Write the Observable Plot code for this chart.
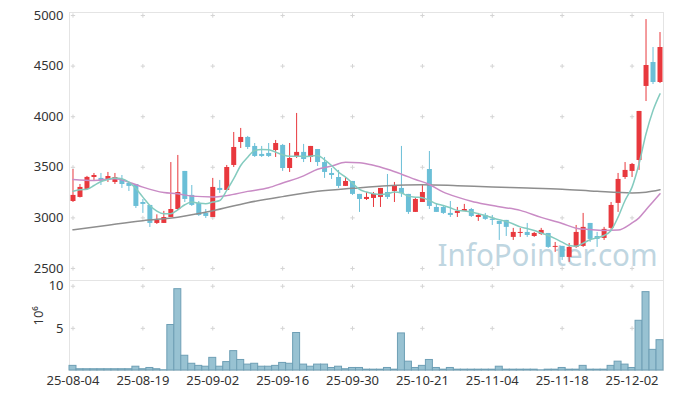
<!DOCTYPE html>
<html><head><meta charset="utf-8">
<script src="https://cdn.jsdelivr.net/npm/d3@7"></script>
<script src="https://cdn.jsdelivr.net/npm/@observablehq/plot@0.6"></script>
<style>
body{margin:0;background:#fff;}
#chart{width:673px;}
#chart svg{display:block;overflow:visible;}
</style></head><body><div id="chart"></div>
<script>
const dates = [
"25-08-04","25-08-05","25-08-06","25-08-07","25-08-08","25-08-11","25-08-12","25-08-13","25-08-14","25-08-18",
"25-08-19","25-08-20","25-08-21","25-08-22","25-08-25","25-08-26","25-08-27","25-08-28","25-08-29","25-09-01",
"25-09-02","25-09-03","25-09-04","25-09-05","25-09-08","25-09-09","25-09-10","25-09-11","25-09-12","25-09-15",
"25-09-16","25-09-17","25-09-18","25-09-19","25-09-22","25-09-23","25-09-24","25-09-25","25-09-26","25-09-29",
"25-09-30","25-10-01","25-10-02","25-10-10","25-10-13","25-10-14","25-10-15","25-10-16","25-10-17","25-10-20",
"25-10-21","25-10-22","25-10-23","25-10-24","25-10-27","25-10-28","25-10-29","25-10-30","25-10-31","25-11-03",
"25-11-04","25-11-05","25-11-06","25-11-07","25-11-10","25-11-11","25-11-12","25-11-13","25-11-14","25-11-17",
"25-11-18","25-11-19","25-11-20","25-11-21","25-11-24","25-11-25","25-11-26","25-11-27","25-11-28","25-12-01",
"25-12-02","25-12-03","25-12-04","25-12-05","25-12-08"];

const open = [
3162,3202,3281,3399,3390,3370,3350,3370,3340,3330,
3152,3123,2945,2945,3004,3083,3459,3222,3143,3044,
3004,3291,3271,3518,3745,3795,3706,3627,3637,3666,
3716,3488,3607,3647,3597,3676,3547,3439,3399,3311,
3360,3232,3182,3192,3202,3251,3261,3291,3232,3054,
3152,3478,3103,3103,3044,3044,3064,3083,3004,3024,
2985,2965,2975,2807,2846,2856,2816,2836,2846,2708,
2718,2609,2708,2718,2945,2816,2797,2896,3143,3399,
3459,3567,4299,4536,4338];
const high = [
3478,3330,3410,3439,3439,3449,3439,3419,3350,3330,
3182,3123,3030,3064,3547,3617,3459,3320,3162,3083,
3390,3370,3518,3844,3884,3805,3735,3706,3735,3765,
3726,3735,4032,3726,3706,3676,3597,3488,3469,3399,
3360,3232,3251,3251,3291,3429,3350,3706,3232,3192,
3320,3656,3133,3113,3162,3103,3133,3093,3044,3044,
3024,2965,2975,2896,2896,2945,2856,2896,2846,2757,
2718,2747,2925,3044,2945,2856,2906,3152,3439,3547,
3538,4052,4960,4684,4832];
const low = [
3152,3197,3275,3370,3320,3350,3330,3291,3261,3093,
3044,2905,2935,2945,3004,3074,3152,3113,3014,2994,
3004,3241,3271,3498,3686,3676,3597,3597,3597,3597,
3459,3449,3587,3547,3547,3508,3390,3380,3291,3311,
3222,3054,3172,3103,3103,3182,3152,3202,3034,3054,
3152,3083,3054,3034,3004,3004,3064,3004,2965,2975,
2925,2777,2816,2777,2807,2807,2807,2826,2698,2659,
2579,2560,2698,2708,2757,2708,2777,2876,3054,3380,
3399,3469,4150,4318,4328];
const close = [
3222,3301,3400,3419,3360,3409,3399,3330,3311,3113,
3133,2945,2975,3004,3083,3251,3182,3123,3024,3014,
3301,3271,3498,3696,3795,3696,3607,3607,3607,3735,
3488,3587,3647,3577,3706,3547,3449,3419,3311,3360,
3232,3182,3202,3232,3291,3202,3311,3241,3054,3182,
3251,3113,3054,3044,3024,3064,3083,3014,3024,2985,
2975,2935,2906,2856,2856,2826,2846,2876,2708,2718,
2609,2708,2856,2906,2787,2787,2886,3123,3380,3469,
3528,4052,4506,4338,4684];
const volume = [
550000,150000,150000,150000,150000,150000,150000,150000,150000,450000,
150000,300000,150000,30000,5400000,9650000,1750000,800000,550000,450000,
1500000,450000,1000000,2300000,1250000,700000,800000,450000,450000,550000,
900000,800000,4450000,700000,450000,700000,700000,300000,450000,150000,
300000,300000,100000,100000,100000,300000,100000,4400000,1050000,300000,
550000,1250000,300000,100000,300000,100000,100000,100000,100000,100000,
100000,450000,100000,100000,100000,100000,100000,20000,100000,100000,
300000,100000,100000,550000,100000,100000,100000,550000,1050000,700000,
300000,5900000,9300000,2450000,3600000];

const ma5 = [
3264,3277,3284,3320,3360,3380,3393,3387,3353,3291,
3205,3123,3067,3041,3041,3080,3130,3156,3146,3140,
3156,3172,3271,3387,3518,3600,3666,3676,3673,3650,
3624,3610,3610,3607,3610,3617,3574,3518,3452,3403,
3343,3281,3255,3238,3232,3238,3255,3245,3215,3205,
3199,3172,3140,3123,3100,3074,3067,3057,3041,3024,
3001,2981,2965,2940,2911,2895,2876,2850,2826,2795,
2760,2727,2720,2750,2784,2803,2826,2876,3007,3172,
3304,3535,3831,4061,4226];
const ma20Idx = [0,3,6,8,10,13,15,17,20,22,25,28,30,33,35,37,39,41,43,45,47,49,51,53,55,57,59,61,64,67,70,72,74,76,78,80,81,82,83,84];
const ma20 = [3380,3370,3387,3353,3304,3250,3238,3215,3207,3220,3262,3298,3345,3415,3480,3512,3549,3545,3520,3480,3432,3380,3330,3255,3205,3165,3135,3110,3074,3005,2945,2898,2884,2876,2880,2950,3000,3080,3160,3238];
const ma60Idx = [0,5,10,15,20,25,30,35,40,45,50,55,60,65,70,75,80,82,84];
const ma60 = [2882,2928,2972,3007,3070,3150,3210,3262,3292,3318,3328,3318,3305,3296,3284,3262,3247,3254,3278];

const priceTicks = [2500,3000,3500,4000,4500,5000];
const volumeTicks = [5000000,10000000];
const xTickIdx = [0,10,20,30,40,50,60,70,80];
const watermark = "InfoPointer.com";

const red = "#e8383d", blue = "#6bbfd7";
const rows = dates.map((date, i) => ({i, date, open: open[i], high: high[i], low: low[i], close: close[i], volume: volume[i]}));
const candleColor = d => d.close >= d.open ? red : blue;
const xDomain = [-0.5, dates.length - 0.5];
const grid = ys => xTickIdx.flatMap(x => ys.map(y => ({x, y})));
const style = {fontSize: "13px", fontFamily: "'Noto Sans', sans-serif", color: "#333", background: "transparent", overflow: "visible"};

const topPlot = Plot.plot({
  width: 673, height: 280, marginLeft: 69, marginRight: 10, marginTop: 12, marginBottom: 0,
  style,
  x: {domain: xDomain, axis: null},
  y: {domain: [2381, 5030], ticks: priceTicks, tickFormat: d => String(d), tickSize: 0, tickPadding: 6, label: null},
  marks: [
    Plot.frame({stroke: "#e4e4e4"}),
    Plot.dot(grid(priceTicks), {x: "x", y: "y", symbol: "plus", r: 1.5, stroke: "#d4d4d4", strokeWidth: 1}),
    Plot.text([watermark], {text: d => d, frameAnchor: "bottom-left", textAnchor: "start", lineAnchor: "middle", dx: 368, dy: -24, fontSize: 30, fill: "#bfd6e1"}),
    Plot.ruleX(rows, {x: "i", y1: "low", y2: "high", stroke: candleColor, strokeWidth: 1}),
    Plot.ruleX(rows, {x: "i", y1: "open", y2: "close", stroke: candleColor, strokeWidth: 5}),
    Plot.line(ma60Idx, {x: d => d, y: (d, i) => ma60[i], curve: "monotone-x", stroke: "#8e8e8e", strokeWidth: 1.5}),
    Plot.line(ma20Idx, {x: d => d, y: (d, i) => ma20[i], curve: "monotone-x", stroke: "#c98bc5", strokeWidth: 1.5}),
    Plot.line(ma5, {x: (d, i) => i, y: d => d, curve: "monotone-x", stroke: "#84cbbf", strokeWidth: 1.5})
  ]
});

const volPlot = Plot.plot({
  width: 673, height: 118, marginLeft: 69, marginRight: 10, marginTop: 0, marginBottom: 28,
  style,
  x: {domain: xDomain, ticks: xTickIdx, tickFormat: i => dates[i], tickSize: 0, tickPadding: 5, label: null},
  y: {domain: [0, 10680000], ticks: volumeTicks, tickFormat: d => String(d / 1e6), tickSize: 0, tickPadding: 6, label: null},
  marks: [
    Plot.frame({stroke: "#e4e4e4"}),
    Plot.dot(grid(volumeTicks), {x: "x", y: "y", symbol: "plus", r: 1.5, stroke: "#d4d4d4", strokeWidth: 1}),
    Plot.rectY(rows, {x1: d => d.i - 0.5, x2: d => d.i + 0.5, y: "volume", fill: "#98c2d2", stroke: "#6e9fb5", strokeWidth: 1}),
    Plot.text(["10⁶"], {text: d => d, frameAnchor: "left", rotate: -90, dx: -31, fontSize: 13, fill: "#333"})
  ]
});

const chart = document.getElementById("chart");
chart.append(topPlot, volPlot);
topPlot.querySelectorAll("text").forEach(t => {
  if (t.textContent === watermark) { t.setAttribute("textLength", "220"); t.setAttribute("lengthAdjust", "spacingAndGlyphs"); }
});
</script>
</body></html>
